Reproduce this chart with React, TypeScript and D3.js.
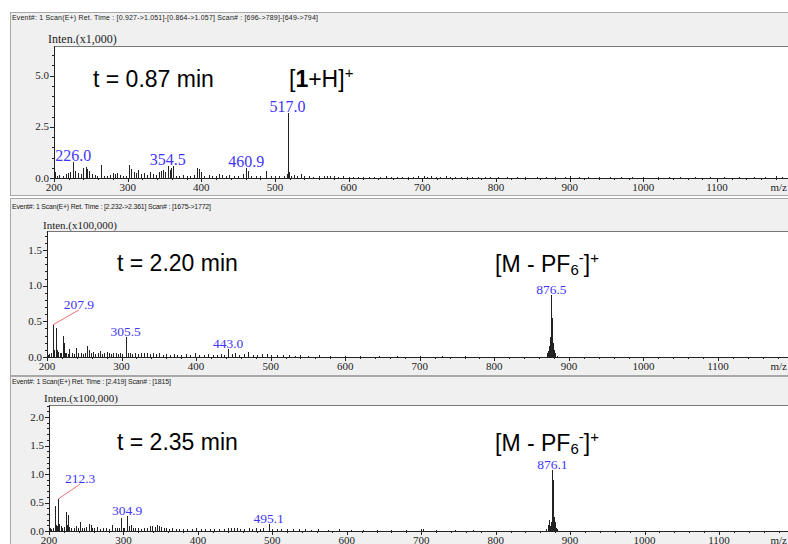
import React from "react";
import * as d3 from "d3";

const SERIF = "'Liberation Serif', 'Times New Roman', serif";
const SANS = "'Liberation Sans', Arial, sans-serif";

// ---------- data ----------
const headers = [
  "Event#: 1 Scan(E+)  Ret. Time : [0.927->1.051]-[0.864->1.057]  Scan# : [696->789]-[649->794]",
  "Event#: 1 Scan(E+)  Ret. Time : [2.232->2.361]  Scan# : [1675->1772]",
  "Event#: 1 Scan(E+)  Ret. Time : [2.419]  Scan# : [1815]",
];
const intenLabels = ["Inten.(x1,000)", "Inten.(x100,000)", "Inten.(x100,000)"];
const timeLabels = ["t = 0.87 min", "t = 2.20 min", "t = 2.35 min"];
const xMajorTicks = [200, 300, 400, 500, 600, 700, 800, 900, 1000, 1100];
const yTicks1 = [0, 2.5, 5.0];
const yTicks2 = [0, 0.5, 1.0, 1.5];
const yTicks3 = [0, 0.5, 1.0, 1.5, 2.0];

// [m/z, intensity]
const peaks1: [number, number][] = [
  [201, 0.3], [204, 0.12], [207, 0.15], [212, 0.08], [216, 0.2], [219, 0.25], [222, 0.3], [226, 0.77],
  [229, 0.35], [233, 0.25], [236, 0.2], [240, 0.5], [243, 0.55], [245, 0.45], [248, 0.35], [251, 0.2],
  [255, 0.15], [258, 0.1], [264, 0.65], [268, 0.12], [272, 0.1], [276, 0.15], [280, 0.22], [283, 0.2],
  [286, 0.25], [290, 0.15], [293, 0.1], [298, 0.12], [302, 0.65], [305, 0.45], [308, 0.3], [311, 0.25],
  [314, 0.4], [318, 0.2], [322, 0.25], [326, 0.15], [330, 0.3], [334, 0.2], [338, 0.15], [342, 0.3],
  [345, 0.35], [348, 0.4], [351, 0.3], [354.5, 0.57], [357, 0.4], [359, 0.5], [362, 0.6], [366, 0.12],
  [370, 0.1], [375, 0.15], [380, 0.08], [385, 0.12], [390, 0.15], [394, 0.5], [397, 0.45], [400, 0.3],
  [404, 0.12], [410, 0.15], [415, 0.12], [420, 0.1], [424, 0.2], [428, 0.15], [433, 0.1], [438, 0.15],
  [444, 0.12], [450, 0.1], [456, 0.2], [460.9, 0.5], [463, 0.35], [468, 0.12], [474, 0.1], [480, 0.12],
  [488, 0.33], [494, 0.08], [500, 0.1], [506, 0.12], [512, 0.08], [516, 0.2], [517, 3.17], [518, 1.14],
  [519, 0.3], [522, 0.12], [526, 0.15], [530, 0.12], [535, 0.2], [540, 0.1], [546, 0.08], [552, 0.06],
  [560, 0.08], [566, 0.12], [570, 0.1], [575, 0.08], [580, 0.1], [586, 0.06], [592, 0.08], [600, 0.06],
  [606, 0.05], [612, 0.05], [620, 0.06], [628, 0.05], [635, 0.07], [642, 0.05], [650, 0.08], [658, 0.05],
  [665, 0.06], [672, 0.07], [680, 0.05], [688, 0.06], [694, 0.08], [702, 0.1], [706, 0.06], [712, 0.08],
  [718, 0.06], [724, 0.05], [732, 0.1], [738, 0.06], [745, 0.05], [752, 0.07], [760, 0.05], [768, 0.06],
  [776, 0.05], [785, 0.06], [792, 0.05], [803, 0.05], [815, 0.06], [828, 0.05], [840, 0.05], [855, 0.06],
  [868, 0.05], [880, 0.06], [893, 0.05], [900, 0.08], [912, 0.05], [925, 0.05], [940, 0.06], [955, 0.05],
  [970, 0.05], [985, 0.06], [1000, 0.05], [1020, 0.05], [1035, 0.06], [1050, 0.05], [1070, 0.05],
  [1090, 0.06], [1110, 0.05], [1130, 0.05], [1150, 0.06], [1165, 0.05], [1180, 0.08], [1188, 0.06],
];

const peaks2: [number, number][] = [
  [201, 0.03], [203, 0.04], [205, 0.06], [207.9, 0.45], [209, 0.1], [210, 0.08], [212, 0.4], [213, 0.1],
  [215, 0.07], [217, 0.06], [219, 0.05], [221, 0.29], [222.5, 0.2], [224, 0.06], [226, 0.05], [228, 0.04],
  [230, 0.11], [233, 0.05], [236, 0.04], [239, 0.12], [242, 0.05], [245, 0.06], [248, 0.04], [251, 0.05],
  [254, 0.15], [256, 0.1], [259, 0.05], [262, 0.07], [265, 0.04], [268, 0.06], [271, 0.08], [274, 0.04],
  [277, 0.05], [280, 0.07], [283, 0.05], [286, 0.04], [289, 0.06], [292, 0.05], [295, 0.04], [298, 0.05],
  [301, 0.04], [305.5, 0.28], [308, 0.06], [311, 0.05], [314, 0.04], [318, 0.05], [322, 0.04], [326, 0.05],
  [330, 0.06], [334, 0.05], [338, 0.04], [342, 0.05], [346, 0.04], [350, 0.05], [355, 0.03], [360, 0.04],
  [365, 0.03], [370, 0.04], [375, 0.03], [380, 0.03], [386, 0.04], [392, 0.03], [398, 0.05], [404, 0.03],
  [410, 0.03], [416, 0.04], [422, 0.03], [428, 0.03], [434, 0.04], [438, 0.03], [443, 0.11], [448, 0.04],
  [452, 0.06], [458, 0.03], [464, 0.04], [470, 0.07], [476, 0.03], [482, 0.03], [488, 0.04], [495, 0.04],
  [500, 0.03], [508, 0.03], [516, 0.03], [524, 0.03], [532, 0.02], [540, 0.03], [550, 0.02], [565, 0.03],
  [580, 0.02], [600, 0.02], [620, 0.02], [645, 0.02], [670, 0.02], [700, 0.02], [730, 0.02], [760, 0.02],
  [870, 0.03], [871, 0.05], [872, 0.08], [873, 0.12], [873.5, 0.15], [874, 0.2], [874.5, 0.22], [875, 0.28],
  [875.5, 0.32], [876, 0.5], [876.5, 0.87], [877, 0.55], [877.5, 0.38], [878, 0.3], [878.5, 0.2], [879, 0.15],
  [880, 0.1], [881, 0.06], [882, 0.04], [884, 0.02],
];

const peaks3: [number, number][] = [
  [201, 0.05], [203, 0.04], [205, 0.06], [208, 0.44], [209.5, 0.1], [211, 0.08], [212.3, 0.56], [214, 0.12],
  [216, 0.08], [218, 0.06], [220, 0.07], [222.5, 0.33], [224, 0.1], [225.5, 0.28], [227, 0.07], [230, 0.05],
  [233, 0.06], [236, 0.08], [239, 0.05], [241, 0.16], [244, 0.06], [247, 0.05], [250, 0.07], [254, 0.13],
  [256, 0.1], [258, 0.06], [261, 0.05], [264, 0.07], [268, 0.04], [272, 0.05], [276, 0.06], [280, 0.04],
  [284.7, 0.1], [288, 0.05], [291, 0.06], [294, 0.05], [296.5, 0.22], [299, 0.06], [301, 0.05], [304.9, 0.27],
  [307, 0.08], [310, 0.1], [313, 0.06], [316, 0.05], [320, 0.05], [324, 0.04], [328, 0.06], [332, 0.05],
  [336, 0.08], [339, 0.09], [342, 0.07], [345, 0.1], [348, 0.08], [351, 0.07], [354, 0.06], [357, 0.05],
  [361, 0.04], [365, 0.05], [370, 0.04], [375, 0.03], [380, 0.04], [386, 0.03], [392, 0.04], [398, 0.05],
  [404, 0.03], [410, 0.04], [416, 0.03], [422, 0.04], [428, 0.03], [435, 0.04], [440, 0.06], [444, 0.05],
  [448, 0.06], [452, 0.05], [457, 0.04], [462, 0.03], [468, 0.05], [473, 0.04], [478, 0.05], [483, 0.04],
  [488, 0.05], [495.1, 0.12], [500, 0.04], [506, 0.03], [512, 0.04], [520, 0.03], [528, 0.04], [536, 0.03],
  [544, 0.03], [552, 0.02], [562, 0.03], [575, 0.02], [590, 0.03], [605, 0.02], [622, 0.02], [640, 0.02],
  [660, 0.02], [680, 0.02], [700, 0.03], [703, 0.04], [720, 0.02], [745, 0.02], [770, 0.02],
  [868, 0.03], [870, 0.1], [871, 0.15], [872, 0.2], [873, 0.08], [874, 0.15], [875, 0.4], [876.1, 1.07],
  [877, 0.89], [878, 0.25], [879, 0.12], [880, 0.15], [881, 0.06], [882, 0.03],
];

// peak labels: [m/z, intensity, text]
const labels1: [number, number, string][] = [
  [226.0, 0.77, "226.0"], [354.5, 0.6, "354.5"], [460.9, 0.5, "460.9"], [517.0, 3.17, "517.0"],
];
const labels2: [number, number, string][] = [
  [305.5, 0.28, "305.5"], [443.0, 0.11, "443.0"], [876.5, 0.87, "876.5"],
];
const leader2: [number, number, string] = [207.9, 0.45, "207.9"];
const labels3: [number, number, string][] = [
  [304.9, 0.27, "304.9"], [495.1, 0.12, "495.1"], [876.1, 1.07, "876.1"],
];
const leader3: [number, number, string] = [212.3, 0.56, "212.3"];

// ---------- layout ----------
type PanelCfg = {
  frameTop: number; frameBottom: number; headerY: number; headerW: number; intenY: number; intenX: number; intenSize: number;
  left: number; top: number; bottom: number; x1100: number;
  yTicks: number[]; yMinorStep: number; yRefVal: number; yRefPix: number; yMax: number;
  peaks: [number, number][]; labels: [number, number, string][]; labelSize: number;
  leader?: [number, number, string]; leaderDx: number; leaderDy: number;
  header: string; inten: string; time: string; timeX: number; timeY: number;
  ionX: number; ionY: number; ion: "H" | "PF6";
};

const BLUE = "#3f36f5";

function Panel({ c }: { c: PanelCfg }) {
  const x = d3.scaleLinear().domain([200, 1100]).range([c.left, c.x1100]);
  const y = d3.scaleLinear().domain([0, c.yRefVal]).range([c.bottom, c.yRefPix]);
  const minorX = d3.range(200, 1200, 20).filter((v) => v % 100 !== 0);
  const minorY = d3.range(0, c.yMax + 1e-9, c.yMinorStep).filter(
    (v) => !c.yTicks.some((t) => Math.abs(t - v) < 1e-6)
  );
  const fmt = d3.format(".1f");
  const px = (v: number) => Math.round(x(v)) + 0.5;
  return (
    <g>
      <rect x={10.5} y={c.frameTop + 0.5} width={800} height={c.frameBottom - c.frameTop} fill="#f0f0f0" stroke="#a8a8a8" />
      <text x={12} y={c.headerY} fontFamily={SANS} fontSize={7} fill="#222" textLength={c.headerW} lengthAdjust="spacing">{c.header}</text>
      <text x={c.intenX} y={c.intenY} fontFamily={SERIF} fontSize={c.intenSize} fill="#222">{c.inten}</text>
      <rect x={c.left} y={c.top} width={800 - c.left} height={c.bottom - c.top} fill="#fff" />
      <line x1={c.left} x2={800} y1={c.top + 0.5} y2={c.top + 0.5} stroke="#777" />
      {/* peaks */}
      {c.peaks.map(([m, v], i) => (
        <line key={i} x1={px(m)} x2={px(m)} y1={c.bottom} y2={y(v)} stroke="#222" strokeWidth={1} shapeRendering="crispEdges" />
      ))}
      {/* axes */}
      <line x1={c.left + 0.5} x2={c.left + 0.5} y1={c.top} y2={c.bottom + 1} stroke="#222" shapeRendering="crispEdges" />
      <line x1={c.left} x2={800} y1={Math.round(c.bottom) + 0.5} y2={Math.round(c.bottom) + 0.5} stroke="#222" shapeRendering="crispEdges" />
      {xMajorTicks.map((t) => (
        <g key={t}>
          <line x1={px(t)} x2={px(t)} y1={c.bottom} y2={c.bottom + 4} stroke="#222" shapeRendering="crispEdges" />
          <text x={x(t)} y={c.bottom + 12.5} textAnchor="middle" fontFamily={SERIF} fontSize={11} fill="#222">{t}</text>
        </g>
      ))}
      {minorX.map((t) => (
        <line key={t} x1={px(t)} x2={px(t)} y1={c.bottom} y2={c.bottom + 2} stroke="#222" shapeRendering="crispEdges" />
      ))}
      <text x={787} y={c.bottom + 12.5} textAnchor="end" fontFamily={SERIF} fontSize={11} fill="#222">m/z</text>
      {c.yTicks.map((t) => (
        <g key={t}>
          <line x1={c.left - 4} x2={c.left} y1={Math.round(y(t)) + 0.5} y2={Math.round(y(t)) + 0.5} stroke="#222" shapeRendering="crispEdges" />
          <text x={c.left - 5} y={y(t) + 3.5} textAnchor="end" fontFamily={SERIF} fontSize={11} fill="#222">{fmt(t)}</text>
        </g>
      ))}
      {minorY.map((t) => (
        <line key={t} x1={c.left - 2} x2={c.left} y1={Math.round(y(t)) + 0.5} y2={Math.round(y(t)) + 0.5} stroke="#222" shapeRendering="crispEdges" />
      ))}
      {/* peak labels */}
      {c.labels.map(([m, v, s]) => (
        <text key={s} x={x(m)} y={y(v) - 1} textAnchor="middle" fontFamily={SERIF} fontSize={c.labelSize} fill={BLUE}>{s}</text>
      ))}
      {c.leader && (
        <g>
          <line x1={x(c.leader[0])} y1={y(c.leader[1])} x2={x(c.leader[0]) + c.leaderDx} y2={y(c.leader[1]) + c.leaderDy} stroke="#f07070" strokeWidth={1} />
          <text x={x(c.leader[0]) + c.leaderDx} y={y(c.leader[1]) + c.leaderDy - 1} textAnchor="middle" fontFamily={SERIF} fontSize={c.labelSize} fill={BLUE}>{c.leader[2]}</text>
        </g>
      )}
      {/* annotations */}
      <text x={c.timeX} y={c.timeY} fontFamily={SANS} fontSize={23} fill="#000">{c.time}</text>
      {c.ion === "H" ? (
        <text x={c.ionX} y={c.ionY} fontFamily={SANS} fontSize={23} fill="#000">
          [<tspan fontWeight="bold">1</tspan>+H]<tspan fontSize={15} dy={-9}>+</tspan>
        </text>
      ) : (
        <text x={c.ionX} y={c.ionY} fontFamily={SANS} fontSize={23} fill="#000">
          [M - PF<tspan fontSize={15} dy={3}>6</tspan><tspan fontSize={15} dy={-12}>-</tspan>
          <tspan fontSize={23} dy={9}>]</tspan><tspan fontSize={15} dy={-9}>+</tspan>
        </text>
      )}
    </g>
  );
}

const panels: PanelCfg[] = [
  {
    frameTop: 12, frameBottom: 195, headerY: 20, headerW: 306, intenY: 43, intenX: 48, intenSize: 12,
    left: 54, top: 46, bottom: 178, x1100: 717,
    yTicks: yTicks1, yMinorStep: 0.5, yRefVal: 5, yRefPix: 75.7, yMax: 6.4,
    peaks: peaks1, labels: labels1, labelSize: 16, leaderDx: 0, leaderDy: 0,
    header: headers[0], inten: intenLabels[0], time: timeLabels[0], timeX: 93, timeY: 87,
    ionX: 289, ionY: 87, ion: "H",
  },
  {
    frameTop: 198, frameBottom: 375, headerY: 209, headerW: 199, intenY: 229, intenX: 43, intenSize: 11,
    left: 47, top: 231, bottom: 357, x1100: 718,
    yTicks: yTicks2, yMinorStep: 0.1, yRefVal: 1.5, yRefPix: 250, yMax: 1.75,
    peaks: peaks2, labels: labels2, labelSize: 13.5, leader: leader2, leaderDx: 26, leaderDy: -15,
    header: headers[1], inten: intenLabels[1], time: timeLabels[1], timeX: 117, timeY: 271,
    ionX: 495, ionY: 272, ion: "PF6",
  },
  {
    frameTop: 376, frameBottom: 560, headerY: 384, headerW: 159, intenY: 402, intenX: 44, intenSize: 11,
    left: 49, top: 405, bottom: 531, x1100: 719,
    yTicks: yTicks3, yMinorStep: 0.1, yRefVal: 2, yRefPix: 417, yMax: 2.2,
    peaks: peaks3, labels: labels3, labelSize: 13.5, leader: leader3, leaderDx: 22, leaderDy: -15,
    header: headers[2], inten: intenLabels[2], time: timeLabels[2], timeX: 117, timeY: 450,
    ionX: 495, ionY: 451, ion: "PF6",
  },
];

export default function App() {
  return (
    <svg width={788} height={544} style={{ position: "absolute", left: 0, top: 0, display: "block", background: "#fff" }}>
      <rect width={788} height={544} fill="#fff" />
      {panels.map((c, i) => (
        <Panel key={i} c={c} />
      ))}
    </svg>
  );
}
